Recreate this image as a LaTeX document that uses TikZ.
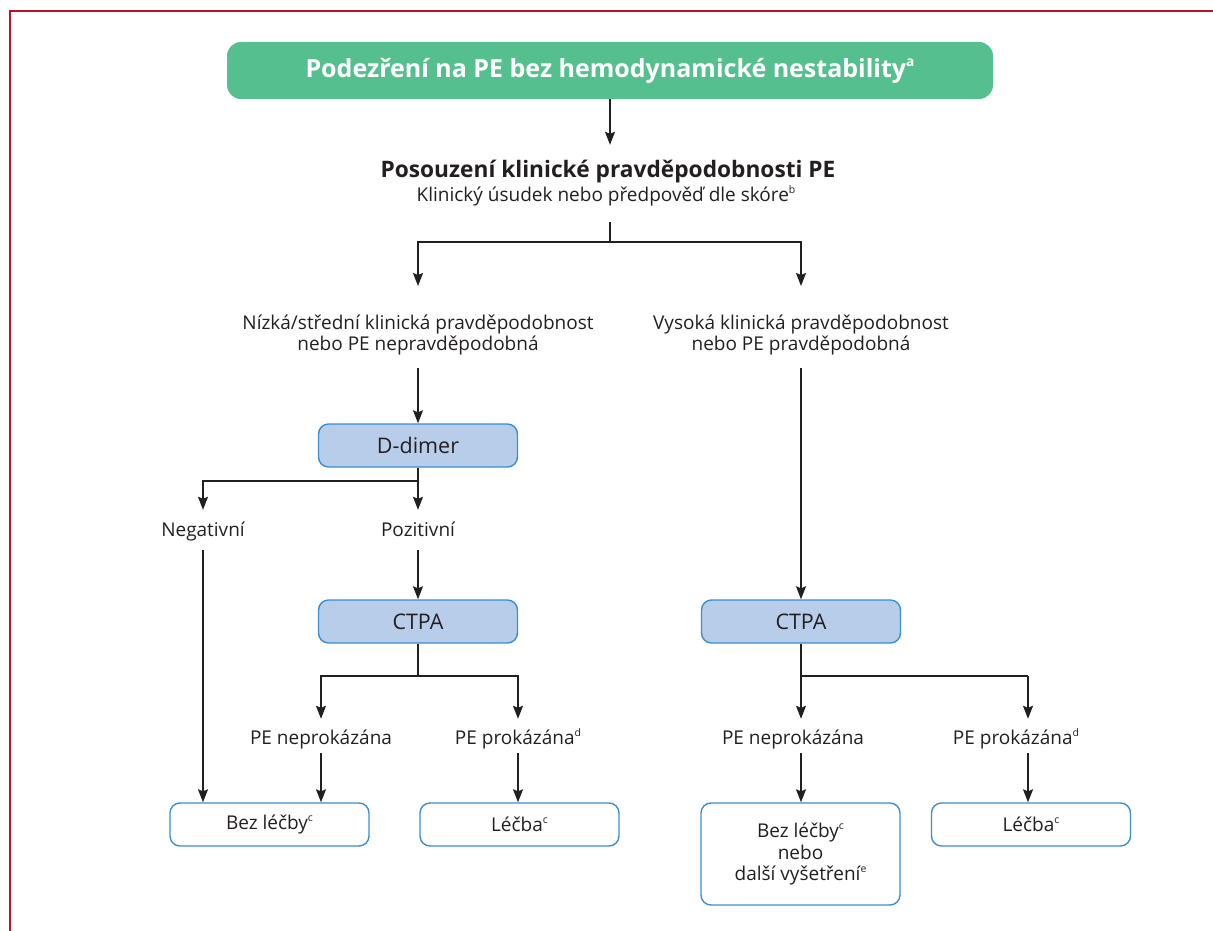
\documentclass[tikz,border=0pt]{standalone}
\usepackage{fontspec}
\setmainfont{Open Sans}
\usetikzlibrary{arrows.meta}
\definecolor{ink}{HTML}{231F20}
\definecolor{framered}{HTML}{B5152B}
\definecolor{escgreen}{HTML}{55BF90}
\definecolor{boxfill}{HTML}{B8CDE9}
\definecolor{boxline}{HTML}{3A8FD1}
\newcommand\myTop[1]{\rule{0pt}{#1}}
\newcommand\myBot[1]{\rule[-#1]{0pt}{#1}}
\newcommand\supx[1]{\raisebox{0.42em}{\scalebox{0.55}{#1}}}
\tikzset{
  conn/.style={draw=ink, line width=1.4pt},
  arr/.style={conn, -{Stealth[length=13pt,width=10pt,inset=2pt]}},
  lbl/.style={inner sep=0pt, text=ink, font=\fontsize{19}{21}\selectfont, align=center},
  titlebox/.style={fill=escgreen, draw=none, rounded corners=14pt, minimum width=766pt,
    minimum height=57pt, inner sep=0pt, text=white, font=\fontsize{25}{28}\selectfont\bfseries},
  bluebox/.style={draw=boxline, fill=boxfill, line width=1.4pt, rounded corners=10pt,
    minimum width=199pt, minimum height=43pt, inner sep=0pt, text=ink, font=\fontsize{21.5}{24}\selectfont},
  whitebox/.style={draw=boxline, fill=white, line width=1.4pt, rounded corners=10pt,
    minimum width=199pt, minimum height=43pt, inner sep=0pt, text=ink, align=center,
    font=\fontsize{19}{21.5}\selectfont}
}
\begin{document}
\begin{tikzpicture}[x=1pt,y=-1pt]
\useasboundingbox (0,0) rectangle (1213,931);
\draw[framered, line width=2pt] (1213,11.5) -- (9.5,11.5) -- (9.5,931);

\node[titlebox] (title) at (610,70.5) {Podezření na PE bez hemodynamické nestability\supx{a}};
\node[lbl, font=\fontsize{22.7}{24}\selectfont\bfseries, anchor=base] (assess) at (608,178)
  {\myTop{33pt}Posouzení klinické pravděpodobnosti PE};
\node[lbl, anchor=base] (sub) at (606,201)
  {Klinický úsudek nebo předpověď dle skóre\supx{b}\myBot{21pt}};
\coordinate (j1) at (610,242);

\node[lbl, anchor=north] (low) at (418,286)
  {\myTop{43pt}Nízká/střední klinická pravděpodobnost\\nebo PE nepravděpodobná\myBot{18pt}};
\node[lbl, anchor=north] (high) at (801,286)
  {\myTop{43pt}Vysoká klinická pravděpodobnost\\nebo PE pravděpodobná\myBot{18pt}};

\node[bluebox] (dd) at (418,445.5) {D-dimer};
\coordinate (j2) at (418,481);
\node[lbl, anchor=base] (neg) at (203,536) {\myTop{26pt}Negativní\myBot{14pt}};
\node[lbl, anchor=base] (pos) at (418,536) {\myTop{26pt}Pozitivní\myBot{14pt}};

\node[bluebox] (ctpa1) at (418,621.5) {CTPA};
\coordinate (j3) at (418,676);
\node[lbl, anchor=base] (no1) at (321,744) {\myTop{25pt}PE neprokázána\myBot{9pt}};
\node[lbl, anchor=base] (yes1) at (518,744) {\myTop{25pt}PE prokázána\supx{d}\myBot{9pt}};

\node[bluebox] (ctpa2) at (801,621.5) {CTPA};
\coordinate (j4) at (801,676);
\coordinate (j5) at (1028,676);
\node[lbl, anchor=base] (no2) at (793,744) {\myTop{25pt}PE neprokázána\myBot{9pt}};
\node[lbl, anchor=base] (yes2) at (1016,744) {\myTop{25pt}PE prokázána\supx{d}\myBot{9pt}};

\node[whitebox] (bez1) at (269.5,824.5) {Bez léčby\supx{c}};
\node[whitebox] (lecba1) at (519.5,824.5) {Léčba\supx{c}};
\node[whitebox, minimum height=102pt] (bez2) at (800.5,854)
  {Bez léčby\supx{c}\\nebo\\další vyšetření\supx{e}};
\node[whitebox] (lecba2) at (1031,824.5) {Léčba\supx{c}};

% connectors
\draw[arr] (title.south) -- (title.south |- assess.north);
\draw[conn] (j1 |- sub.south) -- (j1);
\draw[arr] (j1) -| (low.north);
\draw[arr] (j1) -| (high.north);
\draw[arr] (low.south) -- (dd.north);
\draw[conn] (dd.south) -- (j2);
\draw[arr] (j2) -| (neg.north);
\draw[arr] (j2) -- (pos.north);
\draw[arr] (pos.south) -- (ctpa1.north);
\draw[conn] (ctpa1.south) -- (j3);
\draw[arr] (j3) -| (no1.north);
\draw[arr] (j3) -| (yes1.north);
\draw[arr] (neg.south) -- (neg.south |- bez1.north);
\draw[arr] (no1.south) -- (no1.south |- bez1.north);
\draw[arr] (yes1.south) -- (yes1.south |- lecba1.north);

\draw[arr] (high.south) -- (ctpa2.north);
\draw[conn] (ctpa2.south) -- (j4);
\draw[conn] (j4) -- (j5);
\draw[arr] (j4) -- (j4 |- no2.north);
\draw[arr] (j5) -- (j5 |- yes2.north);
\draw[arr] (j4 |- no2.south) -- (j4 |- bez2.north);
\draw[arr] (j5 |- yes2.south) -- (j5 |- lecba2.north);
\end{tikzpicture}
\end{document}
